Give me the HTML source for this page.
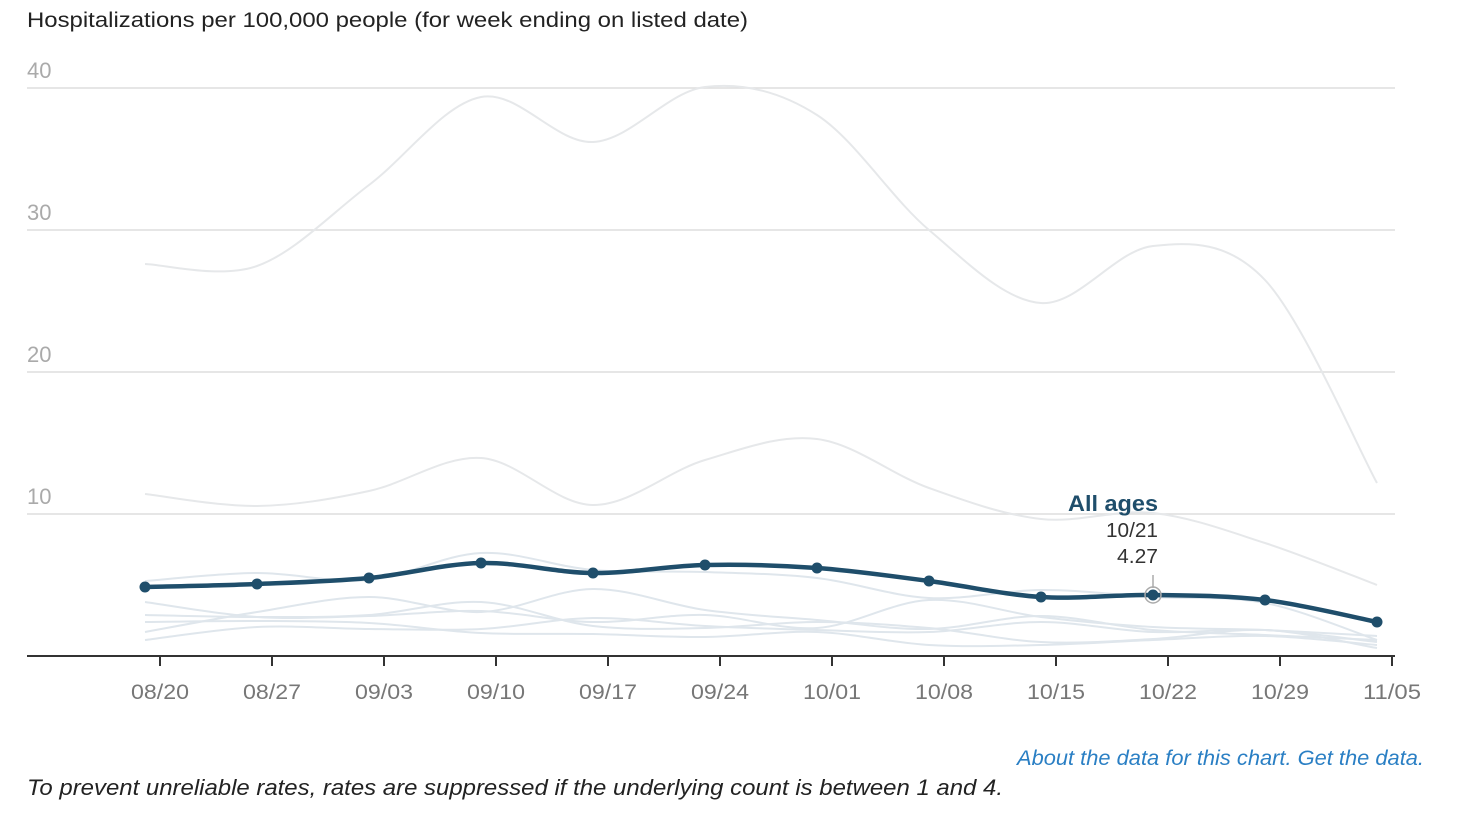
<!DOCTYPE html><html><head><style>
body{margin:0;background:#fff;width:1468px;height:824px;overflow:hidden;font-family:"Liberation Sans",Arial,sans-serif}
svg{position:absolute;left:0;top:0}
</style></head><body>
<svg width="1468" height="824" id="s">
<text x="27" y="27" font-size="21" fill="#222" textLength="721" lengthAdjust="spacingAndGlyphs">Hospitalizations per 100,000 people (for week ending on listed date)</text>
<g stroke="#ddd" stroke-width="1.5">
<line x1="27" x2="1395" y1="88" y2="88"/><line x1="27" x2="1395" y1="230" y2="230"/>
<line x1="27" x2="1395" y1="372" y2="372"/><line x1="27" x2="1395" y1="514" y2="514"/></g>
<g font-size="22" fill="#aaa"><text x="27" y="78">40</text><text x="27" y="220">30</text><text x="27" y="362">20</text><text x="27" y="504">10</text></g>
<g id="lines" fill="none"></g>
<line x1="27" x2="1395" y1="656" y2="656" stroke="#333" stroke-width="2"/>
<g id="ticks" stroke="#333" stroke-width="2"></g>
<g id="tl" font-size="21" fill="#777" text-anchor="middle"></g>
<line x1="1153" x2="1153" y1="575" y2="588" stroke="#aaa" stroke-width="1.5"/>
<circle cx="1153" cy="595" r="8" fill="none" stroke="#aaa" stroke-width="1.5"/>
<text x="1158" y="511" font-size="22" font-weight="bold" fill="#1f4e6b" text-anchor="end" textLength="90" lengthAdjust="spacingAndGlyphs">All ages</text>
<text x="1158" y="537" font-size="20" fill="#333" text-anchor="end" textLength="52" lengthAdjust="spacingAndGlyphs">10/21</text>
<text x="1158" y="563" font-size="20" fill="#333" text-anchor="end" textLength="41" lengthAdjust="spacingAndGlyphs">4.27</text>
<text x="1424" y="765" font-size="21" font-style="italic" fill="#2a7fc4" text-anchor="end" textLength="407" lengthAdjust="spacingAndGlyphs">About the data for this chart. Get the data.</text>
<text x="27" y="795" font-size="22" font-style="italic" fill="#222" textLength="976" lengthAdjust="spacingAndGlyphs">To prevent unreliable rates, rates are suppressed if the underlying count is between 1 and 4.</text>
</svg>
<script>
const X=[145,257,369,481,593,705,817,929,1041,1153,1265,1377];
function path(ys,start){start=start||0;let p=[];for(let i=0;i<ys.length;i++)p.push([X[i+start],ys[i]]);
let d="M"+p[0][0]+","+p[0][1];for(let i=0;i<p.length-1;i++){const p0=p[Math.max(i-1,0)],p1=p[i],p2=p[i+1],p3=p[Math.min(i+2,p.length-1)];
const c1=[p1[0]+(p2[0]-p0[0])/6,p1[1]+(p2[1]-p0[1])/6],c2=[p2[0]-(p3[0]-p1[0])/6,p2[1]-(p3[1]-p1[1])/6];
d+=` C${c1[0]},${c1[1]} ${c2[0]},${c2[1]} ${p2[0]},${p2[1]}`;}return d;}
const g=document.getElementById('lines');let h="";
const grey=[[264,266,185,97,142,87,115,230,303,246,280,483],[494,506,491,458,505,460,439,488,519,513,543,585]];
grey.forEach(y=>h+=`<path d="${path(y)}" stroke="#e6e8ea" stroke-width="2"/>`);
const lb=[[581,573,580,553,570,572,578,598,590,597,603,640],[602,617,616,611,622,615,628,600,617,627,630,636],[615,617,615,602,626,628,622,628,642,639,630,648],[622,621,623,633,634,637,632,645,645,640,636,645],[640,627,629,629,618,626,630,632,622,632,630,642],[632,612,597,612,589,610,620,629,616,630,635,640]];
lb.forEach(y=>h+=`<path d="${path(y)}" stroke="#dfe6ec" stroke-width="2"/>`);
const M=[587,584,578,563,573,565,568,581,597,595,600,622];
h+=`<path d="${path(M)}" stroke="#1f4e6b" stroke-width="4.5"/>`;
M.forEach((y,i)=>h+=`<circle cx="${X[i]}" cy="${y}" r="5.5" fill="#1f4e6b"/>`);
g.innerHTML=h;
const L=["08/20","08/27","09/03","09/10","09/17","09/24","10/01","10/08","10/15","10/22","10/29","11/05"];
let t="",tl="";L.forEach((l,i)=>{const x=160+112*i;t+=`<line x1="${x}" x2="${x}" y1="656" y2="666"/>`;tl+=`<text x="${x}" y="699" textLength="58" lengthAdjust="spacingAndGlyphs">${l}</text>`;});
document.getElementById('ticks').innerHTML=t;document.getElementById('tl').innerHTML=tl;
</script>
</body></html>
